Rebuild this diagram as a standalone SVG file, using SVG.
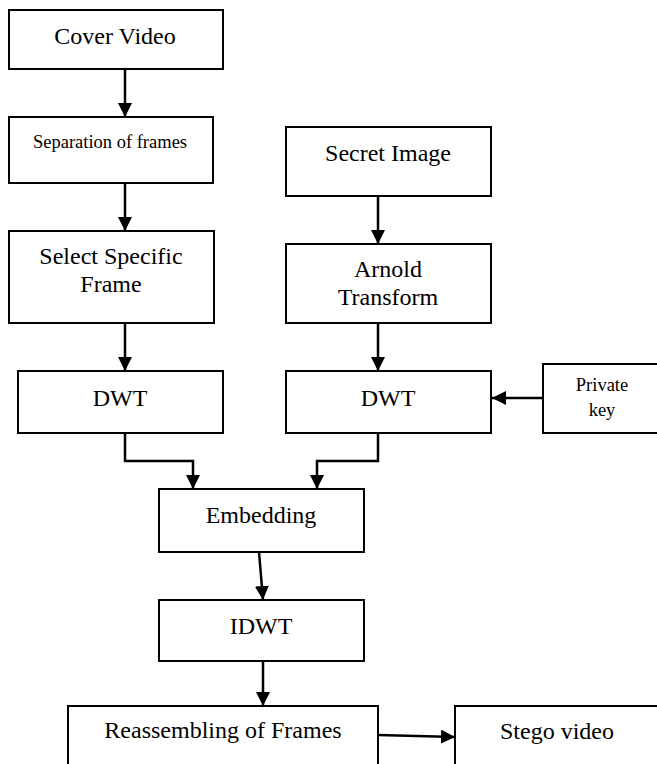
<svg xmlns="http://www.w3.org/2000/svg" width="657" height="764" viewBox="0 0 657 764">
<style>
.box{fill:#fff;stroke:#000;stroke-width:2}
.t{font-family:"Liberation Serif","Times New Roman",serif;font-size:24px;text-anchor:middle;fill:#000}
.s{font-size:18.5px}
.c{fill:none;stroke:#000;stroke-width:2.5}
</style>
<defs>
<marker id="ah" markerWidth="14" markerHeight="14" viewBox="0 0 14 14" refX="14" refY="7" orient="auto" markerUnits="userSpaceOnUse">
<path d="M0,0 L14,7 L0,14 Z" fill="#000"/>
</marker>
</defs>
<rect width="657" height="764" fill="#fff"/>
<g id="connectors">
<line class="c" x1="125" y1="69" x2="125" y2="117" marker-end="url(#ah)"/>
<line class="c" x1="125" y1="183" x2="125" y2="231" marker-end="url(#ah)"/>
<line class="c" x1="125" y1="323" x2="125" y2="371" marker-end="url(#ah)"/>
<line class="c" x1="378" y1="196" x2="378" y2="244" marker-end="url(#ah)"/>
<line class="c" x1="378" y1="323" x2="378" y2="371" marker-end="url(#ah)"/>
<line class="c" x1="543" y1="398" x2="492" y2="398" marker-end="url(#ah)"/>
<polyline class="c" points="125,433 125,461 193,461 193,489" marker-end="url(#ah)"/>
<polyline class="c" points="378,433 378,461 317,461 317,489" marker-end="url(#ah)"/>
<line class="c" x1="259" y1="552" x2="263" y2="600" marker-end="url(#ah)"/>
<line class="c" x1="263" y1="661" x2="263" y2="706" marker-end="url(#ah)"/>
<line class="c" x1="378" y1="735" x2="455" y2="737" marker-end="url(#ah)"/>
</g>
<g id="cover-video"><rect class="box" x="9" y="10" width="214" height="59"/><text class="t" x="115" y="44">Cover Video</text></g>
<g id="separation"><rect class="box" x="9" y="117" width="204" height="66"/><text class="t s" x="110" y="148">Separation of frames</text></g>
<g id="select-frame"><rect class="box" x="9" y="231" width="205" height="92"/><text class="t" x="111" y="264">Select Specific</text><text class="t" x="111" y="292">Frame</text></g>
<g id="dwt-left"><rect class="box" x="18" y="371" width="205" height="62"/><text class="t" x="120" y="406">DWT</text></g>
<g id="secret-image"><rect class="box" x="286" y="127" width="205" height="69"/><text class="t" x="388" y="161">Secret Image</text></g>
<g id="arnold"><rect class="box" x="286" y="244" width="205" height="79"/><text class="t" x="388" y="277">Arnold</text><text class="t" x="388" y="305">Transform</text></g>
<g id="dwt-right"><rect class="box" x="286" y="371" width="205" height="62"/><text class="t" x="388" y="406">DWT</text></g>
<g id="private-key"><rect class="box" x="543" y="364" width="130" height="69"/><text class="t s" x="602" y="391">Private</text><text class="t s" x="602" y="416">key</text></g>
<g id="embedding"><rect class="box" x="159" y="489" width="205" height="63"/><text class="t" x="261" y="523">Embedding</text></g>
<g id="idwt"><rect class="box" x="159" y="600" width="205" height="61"/><text class="t" x="261" y="634">IDWT</text></g>
<g id="reassembling"><rect class="box" x="68" y="706" width="310" height="70"/><text class="t" x="223" y="738">Reassembling of Frames</text></g>
<g id="stego-video"><rect class="box" x="455" y="706" width="215" height="70"/><text class="t" x="557" y="739">Stego video</text></g>
</svg>
